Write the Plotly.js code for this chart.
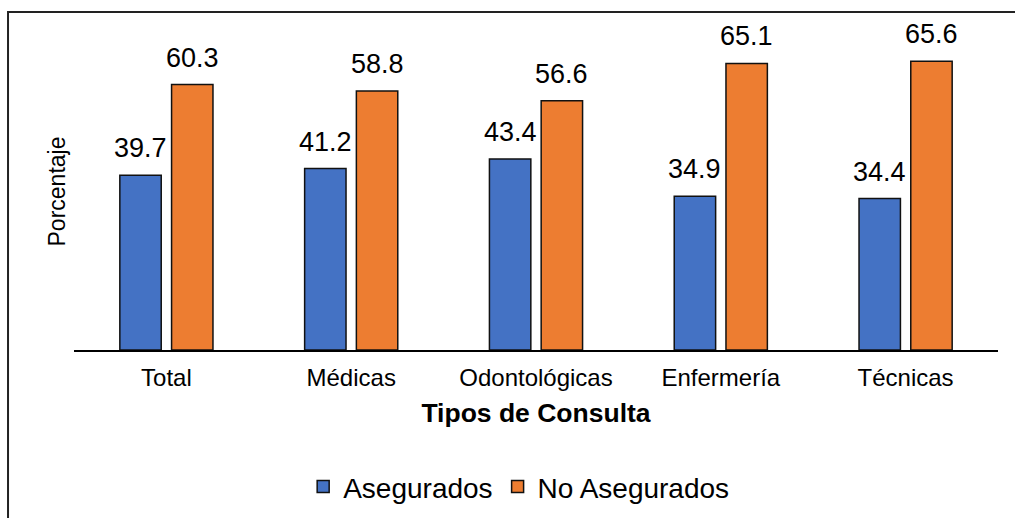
<!DOCTYPE html>
<html>
<head>
<meta charset="utf-8">
<script src="https://cdn.plot.ly/plotly-3.0.1.min.js"></script>
<style>
  html, body { margin: 0; padding: 0; background: #fff; }
  #chart { width: 1015px; height: 518px; }
</style>
</head>
<body>
<div id="chart"></div>
<script>
const categories = ["Total", "Médicas", "Odontológicas", "Enfermería", "Técnicas"];
const asegurados = [39.7, 41.2, 43.4, 34.9, 34.4];
const noAsegurados = [60.3, 58.8, 56.6, 65.1, 65.6];
const seriesNames = ["Asegurados", "No Asegurados"];

const FONT = '"Liberation Sans", Arial, sans-serif';
const BARGAP = 0.44;
const GROUP_OFFSET = (1 - BARGAP) / 4; // center of each bar within its category

function barTrace(name, values, color) {
  return {
    type: 'bar', name: name, x: categories, y: values,
    marker: { color: color, line: { color: '#111111', width: 1.5 } },
    hoverinfo: 'x+y+name'
  };
}

const traces = [
  barTrace(seriesNames[0], asegurados, '#4472C4'),
  barTrace(seriesNames[1], noAsegurados, '#ED7D31')
];

// data labels as annotations attached to the data values
const annotations = [];
[asegurados, noAsegurados].forEach((vals, i) => {
  vals.forEach((v, j) => {
    annotations.push({
      xref: 'x', yref: 'y',
      x: j + (i === 0 ? -GROUP_OFFSET : GROUP_OFFSET), y: v,
      text: v.toFixed(1), showarrow: false,
      xanchor: 'center', yanchor: 'bottom', yshift: 10,
      font: { family: FONT, size: 27, color: '#000' }
    });
  });
});

const layout = {
  width: 1015, height: 518,
  margin: { l: 74, r: 17, t: 33, b: 168, pad: 0 },
  paper_bgcolor: '#ffffff', plot_bgcolor: '#ffffff',
  font: { family: FONT, color: '#000' },
  barmode: 'group', bargap: BARGAP, bargroupgap: 0.2,
  showlegend: true,
  legend: {
    orientation: 'h', xref: 'container', yref: 'container',
    x: 0.511, xanchor: 'center', y: 0.06, yanchor: 'middle',
    font: { family: FONT, size: 28, color: '#000' },
    itemclick: false, itemdoubleclick: false, traceorder: 'normal'
  },
  xaxis: {
    type: 'category',
    showline: true, linecolor: '#000', linewidth: 2,
    ticks: '', showgrid: false, zeroline: false,
    tickfont: { family: FONT, size: 24, color: '#000' },
    ticklabelstandoff: 5,
    title: { text: '<b>Tipos de Consulta</b>', font: { family: FONT, size: 26.5, color: '#000' }, standoff: 14 }
  },
  yaxis: {
    range: [0, 72], showline: false, showgrid: false, zeroline: false,
    showticklabels: false, ticks: '',
    title: { text: 'Porcentaje', font: { family: FONT, size: 23, color: '#000' }, standoff: 0 }
  },
  annotations: annotations,
  shapes: [{
    type: 'rect', xref: 'paper', yref: 'paper', layer: 'below',
    x0: -0.0714, x1: 1.2, y0: -0.9, y1: 1.0664,
    line: { color: '#222', width: 2 }, fillcolor: 'rgba(0,0,0,0)'
  }]
};

Plotly.newPlot('chart', traces, layout, { displayModeBar: false, staticPlot: true });
</script>
</body>
</html>
